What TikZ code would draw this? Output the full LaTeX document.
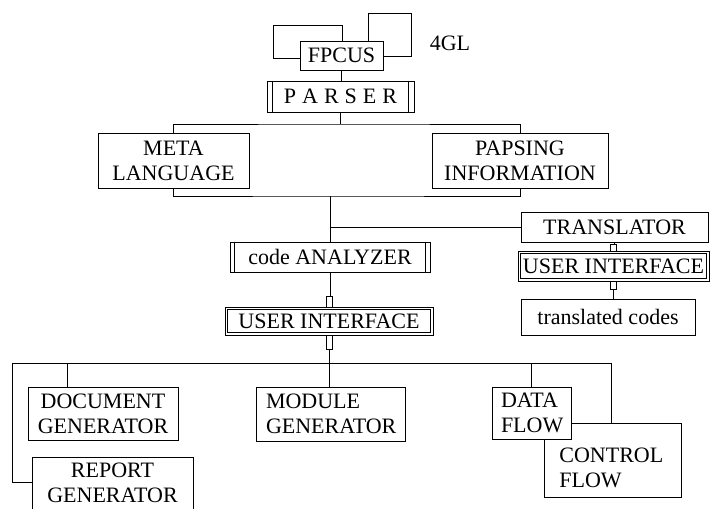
\documentclass[tikz,border=0pt]{standalone}
\usepackage{fontspec}
\setmainfont{Liberation Serif}
\usetikzlibrary{calc}
\begin{document}
\begin{tikzpicture}[x=1pt,y=-1pt,line width=0.8pt,
  txt/.style={inner sep=0pt,align=center,font=\fontsize{22}{25}\selectfont},
  box/.style={txt,draw,fill=white},
  lbox/.style={box,align=left}]
\useasboundingbox (0,0) rectangle (710,509);
% top cluster
\node[box,minimum width=69,minimum height=33] (backL) at (307.5,41.5) {};
\node[box,minimum width=43,minimum height=43] (backR) at (389.5,34.5) {};
\node[box,minimum width=83,minimum height=29] (fpcus) at (341.5,55.5) {FPCUS};
\node[txt] (gl) at (450,43) {4GL};
\node[box,minimum width=147,minimum height=31] (parser) at (340.5,96.5) {P\hspace{6pt}A\hspace{6pt}R\hspace{6pt}S\hspace{6pt}E\hspace{6pt}R};
\node[box,minimum width=151,minimum height=55] (meta) at (173.5,160.5) {META\\LANGUAGE};
\node[box,minimum width=176,minimum height=55] (paps) at (520,160.5) {PAPSING\\INFORMATION};
\node[box,minimum width=200,minimum height=30] (anal) at (330,257) {code ANALYZER};
\node[box,minimum width=208,minimum height=28] (ui1) at (329,321) {USER INTERFACE};
\node[box,minimum width=187,minimum height=30] (trans) at (614.5,227) {TRANSLATOR};
\node[box,minimum width=191,minimum height=30] (ui2) at (613.5,266) {USER INTERFACE};
\node[box,minimum width=174,minimum height=36] (tcodes) at (608,317) {translated codes};
% bottom
\node[box,minimum width=150,minimum height=53] (doc) at (103,413.5) {DOCUMENT\\GENERATOR};
\node[box,minimum width=161,minimum height=80,anchor=north] (report) at (112.5,457) {};
\node[txt] (reporttxt) at (112.5,483) {REPORT\\GENERATOR};
\node[lbox,inner xsep=10pt,text width=129pt,minimum height=54] (module) at (330.5,414) {MODULE\\GENERATOR};
\node[box,minimum width=137,minimum height=74] (control) at (612.5,460) {};
\node[txt,align=left,anchor=west] (controltxt) at (559,468) {CONTROL\\FLOW};
\node[lbox,inner xsep=9pt,text width=61pt,minimum height=52] (data) at (531.5,413) {DATA\\FLOW};
% decorations
\foreach \n/\d in {parser/6,anal/5}{
  \draw ($(\n.north west)+(\d,0)$) -- ($(\n.south west)+(\d,0)$);
  \draw ($(\n.north east)+(-\d,0)$) -- ($(\n.south east)+(-\d,0)$);
}
\foreach \n in {ui1,ui2}
  \draw[line width=1.4pt] ($(\n.north west)+(3,3)$) rectangle ($(\n.south east)+(-3,-3)$);
% connectors
\draw (fpcus.south) -- (fpcus.south |- parser.north);
\coordinate (tb) at (341,124);
\draw (parser.south) -- (parser.south |- tb);
\draw (meta.north) |- (tb) -| (paps.north);
\coordinate (bb) at (330,196);
\draw (meta.south) |- (bb) -| (paps.south);
\draw (bb) -- (anal.north);
\draw (bb |- trans.west) -- (trans.west);
% analyzer -> ui1
\draw (anal.south) -- ++(0,25);
\draw ($(ui1.north)+(-3,0)$) -- ++(0,-10) -- ++(6,0) -- ++(0,10);
\draw ($(ui1.south)+(-3,0)$) -- ++(0,14) -- ++(6,0) -- ++(0,-14);
\draw ($(ui1.south)+(0,14)$) -- (ui1.south |- module.north);
% translator -> ui2 -> codes
\draw (trans.south) -- ++(0,3);
\draw ($(ui2.north)+(-3,0)$) -- ++(0,-6) -- ++(6,0) -- ++(0,6);
\draw ($(ui2.south)+(-3,0)$) -- ++(0,8) -- ++(6,0) -- ++(0,-8);
\draw ($(ui2.south)+(0,8)$) -- (ui2.south |- tcodes.north);
% bus
\coordinate (bl) at (12,363);
\coordinate (br) at (611,363);
\draw ($(report.north west)+(0,25)$) -| (bl) -- (br) -- (br |- control.north);
\coordinate (dj) at ($(doc.north west)+(40,0)$);
\draw (dj) -- (dj |- bl);
\draw (data.north) -- (data.north |- bl);
\end{tikzpicture}
\end{document}
